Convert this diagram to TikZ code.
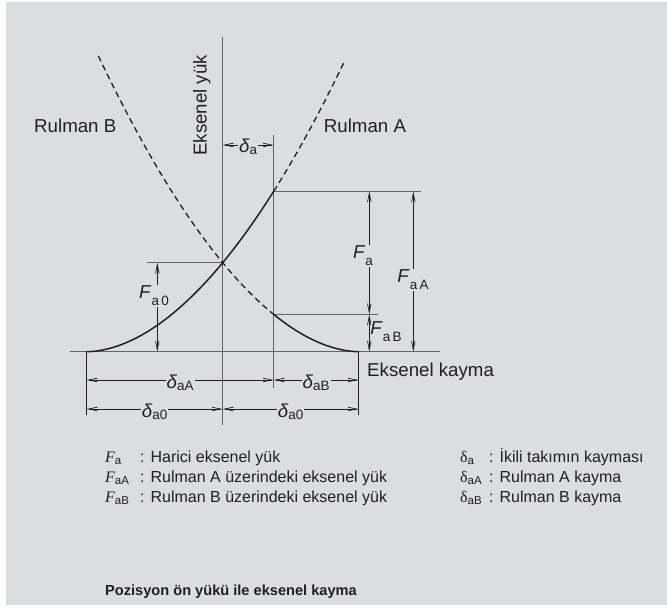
\documentclass[tikz,border=0pt]{standalone}
\usepackage{fontspec}
\setmainfont{Liberation Sans}
\newfontfamily\legserif{Liberation Serif}
\usetikzlibrary{arrows.meta}
\definecolor{bggray}{RGB}{220,221,223}
\definecolor{ink}{RGB}{35,31,32}
\definecolor{axisgray}{RGB}{100,100,102}
\tikzset{
  dimarrow/.style={draw=ink, line width=0.7pt, {Straight Barb[length=9pt,width=3.6pt]}-{Straight Barb[length=9pt,width=3.6pt]}},
  helpline/.style={draw=axisgray, line width=1.1pt},
  curve/.style={draw=ink, line width=1.5pt},
  dashcurve/.style={draw=ink, line width=1.3pt, dash pattern=on 6pt off 4pt},
  lbl/.style={font=\fontsize{18.7}{22}\selectfont, text=ink, inner sep=1pt},
  dimlbl/.style={lbl, fill=bggray},
  legtext/.style={font=\fontsize{16}{19}\selectfont, text=ink, inner sep=0pt, anchor=base west},
}
\newcommand{\Fsym}[1]{\textit{F}\raisebox{-7pt}{\fontsize{13.5}{15}\selectfont #1}}
\newcommand{\dsym}[1]{\textit{δ}\raisebox{-2pt}{\fontsize{13.5}{15}\selectfont #1}}
\newcommand{\legF}[1]{{\legserif\itshape F}\raisebox{-2pt}{\fontsize{11.5}{13}\selectfont #1}}
\newcommand{\legd}[1]{{\legserif δ}\raisebox{-2pt}{\fontsize{11.5}{13}\selectfont #1}}
\begin{document}
\begin{tikzpicture}[x=1pt, y=-1pt, declare function={fA(\x)=351.7-89*((\x-86.7)/136+0.00001)^1.85; fB(\x)=351.7-89*((358.7-\x)/136+0.00001)^1.85;}]
    \useasboundingbox (0,0) rectangle (667,608);
    \fill[white] (0,0) rectangle (667,608);
    \fill[bggray] (6,2) rectangle (667,605);
    \pgfmathsetmacro{\yA}{fA(273.7)}
    \pgfmathsetmacro{\yB}{fB(273.7)}
    \coordinate (O) at (222.7,351.7);
    \coordinate (P) at (222.7,262.7);
    \coordinate (SA) at (86.7,351.7);
    \coordinate (SB) at (358.7,351.7);
    \coordinate (QA) at (273.7,\yA);
    \coordinate (QB) at (273.7,\yB);
    % axes and help lines
    \draw[helpline] (70,351.7) -- (440,351.7);
    \draw[helpline] (222.7,37) -- (222.7,425);
    \draw[helpline] (273.7,135) -- (273.7,388);
    \draw[helpline] (147.3,262.7) -- (P);
    \draw[helpline] (QA) -- (420.7,\yA);
    \draw[helpline] (QB) -- (378.3,\yB);
    \draw[ink, line width=0.8pt] (SA) -- (86.7,415);
    \draw[ink, line width=0.8pt] (SB) -- (358.7,415);
    % curves
    \draw[curve] plot[domain=86.7:273.7, samples=60] (\x,{fA(\x)});
    \draw[dashcurve] plot[domain=273.7:345, samples=30] (\x,{fA(\x)});
    \draw[dashcurve] plot[domain=98.3:273.7, samples=60] (\x,{fB(\x)});
    \draw[curve] plot[domain=273.7:358.7, samples=30] (\x,{fB(\x)});
    % labels
    \node[lbl, anchor=base west] (rb) at (33,132) {Rulman B};
    \node[lbl, anchor=base west] (ra) at (322.7,132.3) {Rulman A};
    \node[lbl, anchor=base west, rotate=90] (ey) at (206.7,157) {Eksenel yük};
    \node[lbl, anchor=base west] (ek) at (366,376) {Eksenel kayma};
    % dimensions
    \draw[dimarrow] (222.7,145) -- (273.7,145) node[dimlbl, midway, anchor=base, yshift=-7pt] (da) {\dsym{a}};
    \draw[dimarrow] (SA |- 0,380) -- (273.7,380) node[dimlbl, midway, anchor=base, yshift=-8pt] (daA) {\dsym{aA}};
    \draw[dimarrow] (273.7,380) -- (SB |- 0,380) node[dimlbl, midway, anchor=base, yshift=-8pt] (daB) {\dsym{aB}};
    \draw[dimarrow] (SA |- 0,409) -- (222.7,409) node[dimlbl, midway, anchor=base, yshift=-8pt] (da0l) {\dsym{a0}};
    \draw[dimarrow] (222.7,409) -- (SB |- 0,409) node[dimlbl, midway, anchor=base, yshift=-8pt] (da0r) {\dsym{a0}};
    \draw[dimarrow] (157.3,262.7) -- (157.3,351.7);
    \draw[dimarrow] (369.3,\yA) -- (369.3,\yB);
    \draw[dimarrow] (369.3,\yB) -- (369.3,351.7);
    \draw[dimarrow] (413.3,\yA) -- (413.3,351.7);
    \node[dimlbl] (fa0) at (154,296) {\Fsym{a\,0}};
    \node[dimlbl] (fa) at (363,256) {\Fsym{a}};
    \node[dimlbl] (faA) at (413,280) {\Fsym{a\,A}};
    \node[lbl] (faB) at (386,332) {\Fsym{a\,B}};
    % legend
    \node[legtext] (l1) at (105,462) {\legF{a}};
    \node[legtext] (l2) at (105,482) {\legF{aA}};
    \node[legtext] (l3) at (105,502) {\legF{aB}};
    \node[legtext] (t1) at (140,462) {: Harici eksenel yük};
    \node[legtext] (t2) at (140,482) {: Rulman A üzerindeki eksenel yük};
    \node[legtext] (t3) at (140,502) {: Rulman B üzerindeki eksenel yük};
    \node[legtext] (r1) at (460,462) {\legd{a}};
    \node[legtext] (r2) at (460,482) {\legd{aA}};
    \node[legtext] (r3) at (460,502) {\legd{aB}};
    \node[legtext] (s1) at (489,462) {: İkili takımın kayması};
    \node[legtext] (s2) at (489,482) {: Rulman A kayma};
    \node[legtext] (s3) at (489,502) {: Rulman B kayma};
    \node[legtext, font=\fontsize{14.6}{18}\selectfont\bfseries] (ttl) at (105,595) {Pozisyon ön yükü ile eksenel kayma};
\end{tikzpicture}
\end{document}
